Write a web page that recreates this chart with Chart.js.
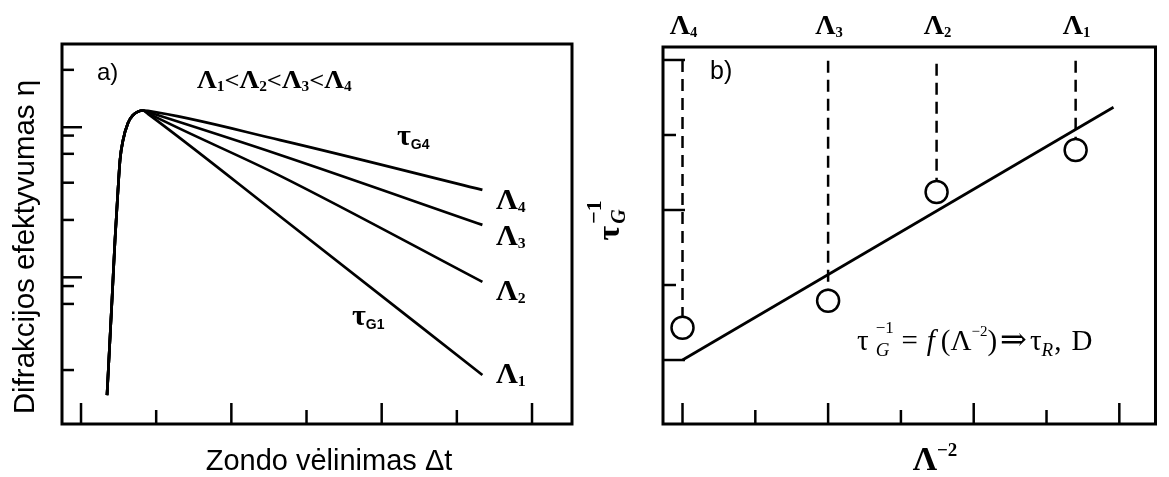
<!DOCTYPE html>
<html>
<head>
<meta charset="utf-8">
<script src="https://cdn.jsdelivr.net/npm/chart.js@4.4.0/dist/chart.umd.min.js"></script>
<style>
  html, body { margin: 0; padding: 0; background: #fff; }
  #wrap { position: relative; width: 1169px; height: 477px; }
  canvas { position: absolute; left: 0; top: 0; }
</style>
</head>
<body>
<div id="wrap">
  <canvas id="chartA" width="1169" height="477"></canvas>
  <canvas id="chartB" width="1169" height="477"></canvas>
</div>
<script>
// a) difrakcijos efektyvumas nuo zondo vėlinimo
const riseDelay = [0.346, 0.412, 0.452, 0.492, 0.519, 0.559, 0.625, 0.692, 0.758, 0.825];
const riseEff   = [0.76, 3.26, 4.84, 6.16, 6.95, 7.47, 7.92, 8.13, 8.22, 8.25];
const decayDelay = [0.89, 2.65, 5.34];
const decayL1 = [8.16, 5.46, 1.29];
const decayL2 = [8.18, 6.53, 3.74];
const decayL3 = [8.21, 7.08, 5.24];
const decayL4 = [8.24, 7.47, 6.16];
const delayTicks = [0, 1, 2, 3, 4, 5, 6];
const etaMajor = [7.81, 3.86];
const etaMinor = [9.32, 7.59, 7.11, 6.35, 5.37, 3.63, 3.16, 1.42];

// b) tau_G^-1 nuo Lambda^-2
const periodSub = ['4', '3', '2', '1'];
const invSqPeriod = [0, 2.0, 3.49, 5.40];
const invTau = [1.43, 1.79, 3.24, 3.80];
const dashTop = [5.0, 4.99, 4.95, 4.99];
const fitX = [0, 5.92];
const fitY = [1.0, 4.37];
const bTicksX = [0, 1, 2, 3, 4, 5, 6];
const bTicksY = [1, 2, 3, 4, 5];

const INK = '#000';
const SERIF = '"Liberation Serif", "DejaVu Serif", serif';
const SANS = '"Liberation Sans", Arial, sans-serif';

// text made of runs: {t, f, dy, gap, stay}
function drawRuns(ctx, x, y, parts, opt) {
  opt = opt || {};
  ctx.save();
  ctx.translate(x, y);
  if (opt.rot) ctx.rotate(opt.rot);
  ctx.scale(opt.sx || 1, 1);
  let w = 0;
  parts.forEach(p => {
    ctx.font = p.f;
    if (!p.stay) w += ctx.measureText(p.t).width + (p.gap || 0);
  });
  let cx = opt.align === 'center' ? -w / 2 : 0;
  ctx.fillStyle = INK;
  ctx.textBaseline = 'alphabetic';
  ctx.textAlign = 'left';
  parts.forEach(p => {
    ctx.font = p.f;
    ctx.fillText(p.t, cx, p.dy || 0);
    if (!p.stay) cx += ctx.measureText(p.t).width + (p.gap || 0);
  });
  ctx.restore();
}

function lambda(sub, size, subSize, subDy) {
  return [
    { t: 'Λ', f: 'bold ' + size + 'px ' + SERIF },
    { t: sub, f: 'bold ' + subSize + 'px ' + SERIF, dy: subDy }
  ];
}

function frame(ctx, area) {
  ctx.strokeStyle = INK;
  ctx.lineWidth = 3;
  ctx.strokeRect(area.left, area.top, area.right - area.left, area.bottom - area.top);
}

function tickX(ctx, chart, v, len) {
  const px = chart.scales.x.getPixelForValue(v);
  const b = chart.chartArea.bottom;
  ctx.beginPath();
  ctx.moveTo(px, b);
  ctx.lineTo(px, b - len);
  ctx.stroke();
}

function tickY(ctx, chart, v, len) {
  const py = chart.scales.y.getPixelForValue(v);
  const l = chart.chartArea.left;
  ctx.beginPath();
  ctx.moveTo(l, py);
  ctx.lineTo(l + len, py);
  ctx.stroke();
}

const decorA = {
  id: 'decorA',
  afterDatasetsDraw(chart) {
    const ctx = chart.ctx;
    ctx.save();
    frame(ctx, chart.chartArea);
    ctx.lineWidth = 2.5;
    delayTicks.forEach(v => tickX(ctx, chart, v, v % 2 === 0 ? 21 : 14));
    etaMajor.forEach(v => tickY(ctx, chart, v, 20));
    etaMinor.forEach(v => tickY(ctx, chart, v, 12));

    drawRuns(ctx, 97, 80, [{ t: 'a)', f: '24px ' + SANS }]);

    const ineq = [];
    ['1', '2', '3', '4'].forEach((s, i) => {
      ineq.push(...lambda(s, 25, 14, 3));
      if (i < 3) ineq.push({ t: '<', f: 'bold 24px ' + SERIF });
    });
    drawRuns(ctx, 197, 88, ineq, { sx: 1.1 });

    drawRuns(ctx, 397, 145, [
      { t: 'τ', f: 'bold 30px ' + SERIF },
      { t: 'G4', f: 'bold 14px ' + SANS, dy: 4 }
    ]);
    drawRuns(ctx, 352, 325, [
      { t: 'τ', f: 'bold 30px ' + SERIF },
      { t: 'G1', f: 'bold 14px ' + SANS, dy: 4 }
    ]);

    [['4', 209], ['3', 245], ['2', 300], ['1', 383]].forEach(([s, by]) => {
      drawRuns(ctx, 496, by, lambda(s, 29, 15, 3), { sx: 1.05 });
    });

    drawRuns(ctx, 34, 247, [{ t: 'Difrakcijos efektyvumas η', f: '29.5px ' + SANS }],
      { rot: -Math.PI / 2, align: 'center' });
    drawRuns(ctx, 329, 470, [{ t: 'Zondo vėlinimas Δt', f: '29px ' + SANS }],
      { align: 'center' });
    ctx.restore();
  }
};

const decorB = {
  id: 'decorB',
  afterDatasetsDraw(chart) {
    const ctx = chart.ctx;
    ctx.save();
    frame(ctx, chart.chartArea);
    ctx.lineWidth = 2.5;
    bTicksX.forEach(v => tickX(ctx, chart, v, v % 2 === 0 ? 21 : 14));
    bTicksY.forEach(v => tickY(ctx, chart, v, v % 2 === 1 ? 22 : 13));

    drawRuns(ctx, 710, 79, [{ t: 'b)', f: '25px ' + SANS }]);

    invSqPeriod.forEach((v, i) => {
      const px = chart.scales.x.getPixelForValue(v);
      drawRuns(ctx, px + 1, 34, lambda(periodSub[i], 27, 14, 3), { sx: 1.05, align: 'center' });
    });

    drawRuns(ctx, 935, 470, [
      { t: 'Λ', f: 'bold 34px ' + SERIF },
      { t: '−2', f: 'bold 19px ' + SERIF, dy: -14 }
    ], { align: 'center' });

    drawRuns(ctx, 619, 225, [
      { t: 'τ', f: 'bold 32px ' + SERIF, gap: 2 },
      { t: '−1', f: 'bold 22px ' + SERIF, dy: -18, stay: true },
      { t: 'G', f: 'bold italic 20px ' + SERIF, dy: 6 }
    ], { rot: -Math.PI / 2, align: 'center' });

    drawRuns(ctx, 857, 350, [
      { t: 'τ', f: '29px ' + SERIF, gap: 7 },
      { t: '−1', f: '17px ' + SERIF, dy: -17, stay: true },
      { t: 'G', f: 'italic 19px ' + SERIF, dy: 6, gap: 12 },
      { t: '=', f: '29px ' + SERIF, gap: 9 },
      { t: 'f', f: 'italic 29px ' + SERIF, gap: 6 },
      { t: '(Λ', f: '29px ' + SERIF },
      { t: '−2', f: '15px ' + SERIF, dy: -14 },
      { t: ')', f: '29px ' + SERIF, gap: 3 },
      { t: '⇒', f: '32px ' + SERIF, gap: 3 },
      { t: 'τ', f: '29px ' + SERIF },
      { t: 'R', f: 'italic 19px ' + SERIF, dy: 6, gap: 1 },
      { t: ',', f: '29px ' + SERIF, gap: 10 },
      { t: 'D', f: '29px ' + SERIF }
    ]);
    ctx.restore();
  }
};

const pts = (xs, ys) => xs.map((x, i) => ({ x: x, y: ys[i] }));

const seriesA = [decayL1, decayL2, decayL3, decayL4].map(dec => ({
  data: pts(riseDelay, riseEff).concat(pts(decayDelay, dec)),
  borderColor: INK,
  borderWidth: 2.7,
  pointRadius: 0,
  fill: false,
  cubicInterpolationMode: 'monotone'
}));

new Chart(document.getElementById('chartA'), {
  type: 'line',
  data: { datasets: seriesA },
  options: {
    responsive: false,
    animation: false,
    layout: { padding: { left: 62, top: 44, right: 597, bottom: 53 } },
    scales: {
      x: { type: 'linear', min: -0.253, max: 6.532, display: false },
      y: { type: 'linear', min: 0, max: 10, display: false }
    },
    plugins: { legend: { display: false }, tooltip: { enabled: false } }
  },
  plugins: [decorA]
});

const seriesB = [{
  data: pts(invSqPeriod, invTau),
  showLine: false,
  pointRadius: 11,
  pointBorderWidth: 2.5,
  pointBackgroundColor: '#fff',
  pointBorderColor: INK,
  order: 0
}, {
  data: pts(fitX, fitY),
  borderColor: INK,
  borderWidth: 2.7,
  pointRadius: 0,
  order: 1
}].concat(invSqPeriod.map((x, i) => ({
  data: [{ x: x, y: dashTop[i] }, { x: x, y: invTau[i] }],
  borderColor: INK,
  borderWidth: 2.5,
  borderDash: [12, 7],
  pointRadius: 0,
  order: 2
})));

new Chart(document.getElementById('chartB'), {
  type: 'line',
  data: { datasets: seriesB },
  options: {
    responsive: false,
    animation: false,
    layout: { padding: { left: 663, top: 47, right: 2, bottom: 53 } },
    scales: {
      x: { type: 'linear', min: -0.268, max: 6.497, display: false },
      y: { type: 'linear', min: 0.147, max: 5.173, display: false }
    },
    plugins: { legend: { display: false }, tooltip: { enabled: false } }
  },
  plugins: [decorB]
});
</script>
</body>
</html>
